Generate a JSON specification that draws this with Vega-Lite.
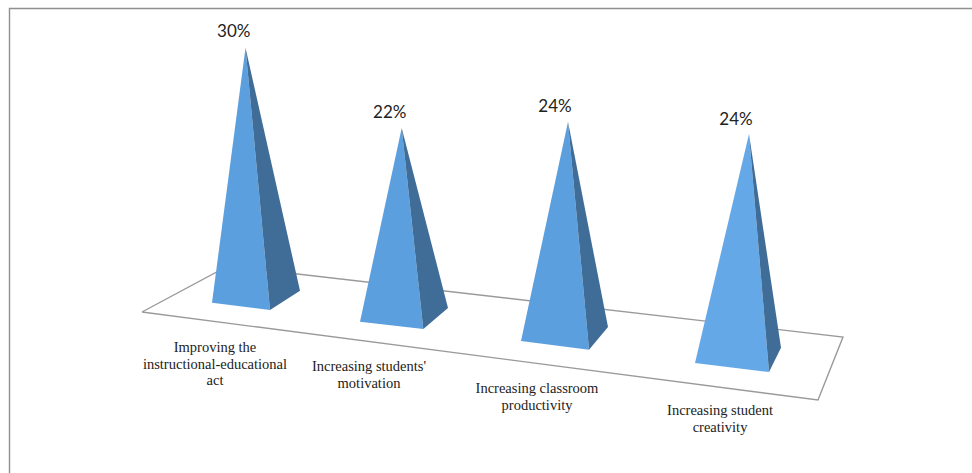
{
  "$schema": "https://vega.github.io/schema/vega-lite/v6.json",
  "width": 972,
  "height": 473,
  "padding": 0,
  "autosize": {"type": "none"},
  "background": "white",
  "config": {"view": {"stroke": null}},
  "datasets": {
    "frame": [
      {"across": 9.5, "rise": 0, "step": 1},
      {"across": 9.5, "rise": 464.5, "step": 2},
      {"across": 972, "rise": 464.5, "step": 3}
    ],
    "floor": [
      {"across": 142, "rise": 161, "step": 1},
      {"across": 228, "rise": 207, "step": 2},
      {"across": 843, "rise": 136, "step": 3},
      {"across": 818, "rise": 73, "step": 4},
      {"across": 142, "rise": 161, "step": 5}
    ],
    "faces": [
      {"category": "Improving", "face": "A front", "surface": "lit", "step": 1, "across": 245.5, "rise": 425.3},
      {"category": "Improving", "face": "A front", "surface": "lit", "step": 2, "across": 212, "rise": 170.3},
      {"category": "Improving", "face": "A front", "surface": "lit", "step": 3, "across": 270, "rise": 163},
      {"category": "Improving", "face": "A side", "surface": "shade", "step": 1, "across": 245.5, "rise": 425.3},
      {"category": "Improving", "face": "A side", "surface": "shade", "step": 2, "across": 270, "rise": 163},
      {"category": "Improving", "face": "A side", "surface": "shade", "step": 3, "across": 300, "rise": 182.3},
      {"category": "Motivation", "face": "B front", "surface": "lit", "step": 1, "across": 401.7, "rise": 345},
      {"category": "Motivation", "face": "B front", "surface": "lit", "step": 2, "across": 360, "rise": 151.3},
      {"category": "Motivation", "face": "B front", "surface": "lit", "step": 3, "across": 423.3, "rise": 144},
      {"category": "Motivation", "face": "B side", "surface": "shade", "step": 1, "across": 401.7, "rise": 345},
      {"category": "Motivation", "face": "B side", "surface": "shade", "step": 2, "across": 423.3, "rise": 144},
      {"category": "Motivation", "face": "B side", "surface": "shade", "step": 3, "across": 448, "rise": 165},
      {"category": "Productivity", "face": "C front", "surface": "lit", "step": 1, "across": 568, "rise": 351.3},
      {"category": "Productivity", "face": "C front", "surface": "lit", "step": 2, "across": 521, "rise": 132},
      {"category": "Productivity", "face": "C front", "surface": "lit", "step": 3, "across": 589, "rise": 123.3},
      {"category": "Productivity", "face": "C side", "surface": "shade", "step": 1, "across": 568, "rise": 351.3},
      {"category": "Productivity", "face": "C side", "surface": "shade", "step": 2, "across": 589, "rise": 123.3},
      {"category": "Productivity", "face": "C side", "surface": "shade", "step": 3, "across": 608, "rise": 146},
      {"category": "Creativity", "face": "D front", "surface": "bright", "step": 1, "across": 749, "rise": 339},
      {"category": "Creativity", "face": "D front", "surface": "bright", "step": 2, "across": 695, "rise": 110},
      {"category": "Creativity", "face": "D front", "surface": "bright", "step": 3, "across": 769, "rise": 101},
      {"category": "Creativity", "face": "D side", "surface": "shade", "step": 1, "across": 749, "rise": 339},
      {"category": "Creativity", "face": "D side", "surface": "shade", "step": 2, "across": 769, "rise": 101},
      {"category": "Creativity", "face": "D side", "surface": "shade", "step": 3, "across": 781, "rise": 125.3}
    ],
    "results": [
      {"share": 0.30, "shareAcross": 233.7, "shareRise": 441.5, "name": "Improving the\ninstructional-educational\nact", "nameAcross": 215, "nameRise": 125},
      {"share": 0.22, "shareAcross": 389.7, "shareRise": 360.3, "name": "Increasing students'\nmotivation", "nameAcross": 369, "nameRise": 106},
      {"share": 0.24, "shareAcross": 555, "shareRise": 366, "name": "Increasing classroom\nproductivity", "nameAcross": 537, "nameRise": 84},
      {"share": 0.24, "shareAcross": 736, "shareRise": 353.5, "name": "Increasing student\ncreativity", "nameAcross": 720, "nameRise": 62}
    ]
  },
  "encoding": {
    "x": {"type": "quantitative", "scale": {"domain": [0, 972], "nice": false, "zero": false}, "axis": null},
    "y": {"type": "quantitative", "scale": {"domain": [0, 473], "nice": false, "zero": false}, "axis": null}
  },
  "layer": [
    {
      "data": {"name": "frame"},
      "mark": {"type": "line", "stroke": "#8f8f8f", "strokeWidth": 1.4},
      "encoding": {
        "x": {"field": "across", "type": "quantitative"},
        "y": {"field": "rise", "type": "quantitative"},
        "order": {"field": "step"}
      }
    },
    {
      "data": {"name": "floor"},
      "mark": {"type": "line", "stroke": "#9a9a9a", "strokeWidth": 1.4},
      "encoding": {
        "x": {"field": "across", "type": "quantitative"},
        "y": {"field": "rise", "type": "quantitative"},
        "order": {"field": "step"}
      }
    },
    {
      "data": {"name": "faces"},
      "mark": {"type": "line", "strokeWidth": 0, "fillOpacity": 1},
      "encoding": {
        "x": {"field": "across", "type": "quantitative"},
        "y": {"field": "rise", "type": "quantitative"},
        "order": {"field": "step"},
        "detail": {"field": "face"},
        "fill": {
          "field": "surface",
          "type": "nominal",
          "legend": null,
          "scale": {"domain": ["lit", "bright", "shade"], "range": ["#5c9fdf", "#65a8e8", "#3f6d97"]}
        }
      }
    },
    {
      "data": {"name": "results"},
      "mark": {"type": "text", "font": "Lato", "fontSize": 17, "color": "#222222", "align": "center", "baseline": "middle"},
      "encoding": {
        "x": {"field": "shareAcross", "type": "quantitative"},
        "y": {"field": "shareRise", "type": "quantitative"},
        "text": {"field": "share", "type": "quantitative", "format": ".0%"}
      }
    },
    {
      "data": {"name": "results"},
      "mark": {"type": "text", "font": "Liberation Serif", "fontSize": 14.5, "color": "#222222", "align": "center", "baseline": "middle", "lineBreak": "\n", "lineHeight": 16.7},
      "encoding": {
        "x": {"field": "nameAcross", "type": "quantitative"},
        "y": {"field": "nameRise", "type": "quantitative"},
        "text": {"field": "name", "type": "nominal"}
      }
    }
  ]
}
